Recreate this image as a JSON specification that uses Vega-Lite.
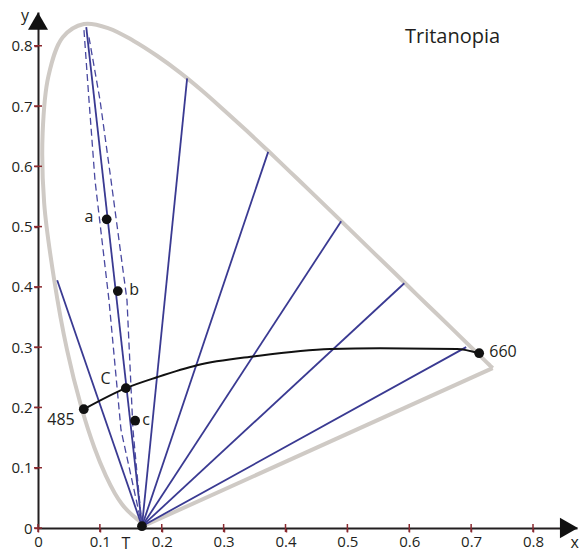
{
  "$schema": "https://vega.github.io/schema/vega-lite/v6.json",
  "width": 539,
  "height": 516,
  "autosize": "none",
  "padding": {"left": 38, "top": 12, "right": 3, "bottom": 26},
  "background": "white",
  "config": {"view": {"stroke": null}, "font": "Open Sans"},
  "datasets": {
    "locus": [
      {"i": 0, "x": 0.1741, "y": 0.0050}, {"i": 1, "x": 0.1733, "y": 0.0048}, {"i": 2, "x": 0.1714, "y": 0.0051},
      {"i": 3, "x": 0.1689, "y": 0.0069}, {"i": 4, "x": 0.1644, "y": 0.0109}, {"i": 5, "x": 0.1566, "y": 0.0177},
      {"i": 6, "x": 0.1440, "y": 0.0297}, {"i": 7, "x": 0.1355, "y": 0.0399}, {"i": 8, "x": 0.1241, "y": 0.0578},
      {"i": 9, "x": 0.1096, "y": 0.0868}, {"i": 10, "x": 0.0913, "y": 0.1327}, {"i": 11, "x": 0.0700, "y": 0.2007},
      {"i": 12, "x": 0.0470, "y": 0.2950}, {"i": 13, "x": 0.0260, "y": 0.4127}, {"i": 14, "x": 0.0100, "y": 0.5384},
      {"i": 15, "x": 0.0075, "y": 0.6548}, {"i": 16, "x": 0.0170, "y": 0.7502}, {"i": 17, "x": 0.0400, "y": 0.8140},
      {"i": 18, "x": 0.0743, "y": 0.8360}, {"i": 19, "x": 0.1142, "y": 0.8290}, {"i": 20, "x": 0.1547, "y": 0.8080},
      {"i": 21, "x": 0.1929, "y": 0.7830}, {"i": 22, "x": 0.2296, "y": 0.7555}, {"i": 23, "x": 0.2658, "y": 0.7250},
      {"i": 24, "x": 0.3016, "y": 0.6923}, {"i": 25, "x": 0.3373, "y": 0.6589}, {"i": 26, "x": 0.3731, "y": 0.6245},
      {"i": 27, "x": 0.4087, "y": 0.5896}, {"i": 28, "x": 0.4441, "y": 0.5547}, {"i": 29, "x": 0.4788, "y": 0.5202},
      {"i": 30, "x": 0.5125, "y": 0.4866}, {"i": 31, "x": 0.5448, "y": 0.4544}, {"i": 32, "x": 0.5752, "y": 0.4242},
      {"i": 33, "x": 0.6029, "y": 0.3965}, {"i": 34, "x": 0.6270, "y": 0.3725}, {"i": 35, "x": 0.6658, "y": 0.3340},
      {"i": 36, "x": 0.6915, "y": 0.3083}, {"i": 37, "x": 0.7079, "y": 0.2920}, {"i": 38, "x": 0.7190, "y": 0.2809},
      {"i": 39, "x": 0.7260, "y": 0.2740}, {"i": 40, "x": 0.7300, "y": 0.2700}, {"i": 41, "x": 0.7334, "y": 0.2666},
      {"i": 42, "x": 0.7347, "y": 0.2653}
    ],
    "purple": [
      {"i": 0, "x": 0.7347, "y": 0.2653},
      {"i": 1, "x": 0.1741, "y": 0.0050}
    ],
    "rays": [
      {"id": 1, "k": 0, "x": 0.168, "y": 0.003}, {"id": 1, "k": 1, "x": 0.031, "y": 0.411},
      {"id": 2, "k": 0, "x": 0.168, "y": 0.003}, {"id": 2, "k": 1, "x": 0.078, "y": 0.831},
      {"id": 3, "k": 0, "x": 0.168, "y": 0.003}, {"id": 3, "k": 1, "x": 0.241, "y": 0.746},
      {"id": 4, "k": 0, "x": 0.168, "y": 0.003}, {"id": 4, "k": 1, "x": 0.372, "y": 0.624},
      {"id": 5, "k": 0, "x": 0.168, "y": 0.003}, {"id": 5, "k": 1, "x": 0.490, "y": 0.509},
      {"id": 6, "k": 0, "x": 0.168, "y": 0.003}, {"id": 6, "k": 1, "x": 0.592, "y": 0.406},
      {"id": 7, "k": 0, "x": 0.168, "y": 0.003}, {"id": 7, "k": 1, "x": 0.692, "y": 0.300}
    ],
    "dashed": [
      {"id": "L", "k": 0, "x": 0.0743, "y": 0.826}, {"id": "L", "k": 1, "x": 0.0824, "y": 0.710},
      {"id": "L", "k": 2, "x": 0.0921, "y": 0.577}, {"id": "L", "k": 3, "x": 0.1147, "y": 0.378},
      {"id": "L", "k": 4, "x": 0.1341, "y": 0.163}, {"id": "L", "k": 5, "x": 0.168, "y": 0.003},
      {"id": "R", "k": 0, "x": 0.0824, "y": 0.814}, {"id": "R", "k": 1, "x": 0.1002, "y": 0.710},
      {"id": "R", "k": 2, "x": 0.118, "y": 0.577}, {"id": "R", "k": 3, "x": 0.1438, "y": 0.378},
      {"id": "R", "k": 4, "x": 0.1535, "y": 0.163}, {"id": "R", "k": 5, "x": 0.168, "y": 0.003}
    ],
    "curve": [
      {"x": 0.074, "y": 0.197}, {"x": 0.142, "y": 0.232}, {"x": 0.192, "y": 0.250},
      {"x": 0.257, "y": 0.270}, {"x": 0.351, "y": 0.285}, {"x": 0.472, "y": 0.297},
      {"x": 0.553, "y": 0.298}, {"x": 0.677, "y": 0.297}, {"x": 0.713, "y": 0.290}
    ],
    "points": [
      {"name": "a", "x": 0.111, "y": 0.512}, {"name": "b", "x": 0.129, "y": 0.393},
      {"name": "C", "x": 0.142, "y": 0.232}, {"name": "c", "x": 0.157, "y": 0.178},
      {"name": "485", "x": 0.074, "y": 0.197}, {"name": "660", "x": 0.713, "y": 0.290},
      {"name": "T", "x": 0.168, "y": 0.003}
    ],
    "labels": [
      {"text": "a", "x": 0.0824, "y": 0.5076}, {"text": "b", "x": 0.1552, "y": 0.3865},
      {"text": "C", "x": 0.1091, "y": 0.2389}, {"text": "c", "x": 0.1745, "y": 0.1709},
      {"text": "485", "x": 0.0372, "y": 0.1709}, {"text": "660", "x": 0.7515, "y": 0.2837},
      {"text": "T", "x": 0.1422, "y": -0.0345}, {"text": "y", "x": -0.021, "y": 0.841},
      {"text": "x", "x": 0.8675, "y": -0.0330}
    ],
    "title": [{"text": "Tritanopia", "x": 0.670, "y": 0.8046}],
    "xticks": [
      {"x": 0, "y": 0}, {"x": 0.1, "y": 0}, {"x": 0.2, "y": 0}, {"x": 0.3, "y": 0}, {"x": 0.4, "y": 0},
      {"x": 0.5, "y": 0}, {"x": 0.6, "y": 0}, {"x": 0.7, "y": 0}, {"x": 0.8, "y": 0}
    ],
    "yticks": [
      {"x": 0, "y": 0}, {"x": 0, "y": 0.1}, {"x": 0, "y": 0.2}, {"x": 0, "y": 0.3}, {"x": 0, "y": 0.4},
      {"x": 0, "y": 0.5}, {"x": 0, "y": 0.6}, {"x": 0, "y": 0.7}, {"x": 0, "y": 0.8}
    ],
    "xarrow": [{"x": 0.858, "y": 0}],
    "yarrow": [{"x": 0, "y": 0.841}]
  },
  "encoding": {
    "x": {
      "field": "x", "type": "quantitative",
      "scale": {"domain": [0, 0.8711], "nice": false, "zero": false},
      "axis": {
        "values": [0, 0.1, 0.2, 0.3, 0.4, 0.5, 0.6, 0.7, 0.8], "format": "~g",
        "title": null, "grid": false, "domainColor": "#231f20", "domainWidth": 2,
        "tickColor": "#8a2a30", "tickWidth": 1.5, "tickSize": 4, "labelPadding": 2,
        "labelFontSize": 15, "labelColor": "#231f20", "labelFont": "Open Sans", "labelFlush": false
      }
    },
    "y": {
      "field": "y", "type": "quantitative",
      "scale": {"domain": [0, 0.856], "nice": false, "zero": false},
      "axis": {
        "values": [0, 0.1, 0.2, 0.3, 0.4, 0.5, 0.6, 0.7, 0.8], "format": "~g",
        "title": null, "grid": false, "domainColor": "#231f20", "domainWidth": 2,
        "tickColor": "#8a2a30", "tickWidth": 1.5, "tickSize": 4, "labelPadding": 2,
        "labelFontSize": 15, "labelColor": "#231f20", "labelFont": "Open Sans", "labelFlush": false
      }
    }
  },
  "layer": [
    {
      "data": {"name": "locus"},
      "mark": {"type": "line", "interpolate": "catmull-rom", "stroke": "#cfcac5", "strokeWidth": 4, "clip": false},
      "encoding": {"order": {"field": "i", "type": "quantitative"}}
    },
    {
      "data": {"name": "purple"},
      "mark": {"type": "line", "stroke": "#cfcac5", "strokeWidth": 4, "clip": false},
      "encoding": {"order": {"field": "i", "type": "quantitative"}}
    },
    {
      "data": {"name": "rays"},
      "mark": {"type": "line", "stroke": "#3a3a92", "strokeWidth": 1.8},
      "encoding": {"detail": {"field": "id", "type": "nominal"}, "order": {"field": "k", "type": "quantitative"}}
    },
    {
      "data": {"name": "dashed"},
      "mark": {"type": "line", "stroke": "#4848a0", "strokeWidth": 1.3, "strokeDash": [7, 4]},
      "encoding": {"detail": {"field": "id", "type": "nominal"}, "order": {"field": "k", "type": "quantitative"}}
    },
    {
      "data": {"name": "curve"},
      "mark": {"type": "line", "interpolate": "monotone", "stroke": "#111111", "strokeWidth": 2}
    },
    {
      "data": {"name": "points"},
      "mark": {"type": "point", "shape": "circle", "filled": true, "fill": "#111111", "opacity": 1, "size": 95, "strokeWidth": 0}
    },
    {
      "data": {"name": "xticks"},
      "mark": {"type": "tick", "orient": "vertical", "color": "#8a2a30", "thickness": 1.5, "size": 8, "opacity": 1}
    },
    {
      "data": {"name": "yticks"},
      "mark": {"type": "tick", "orient": "horizontal", "color": "#8a2a30", "thickness": 1.5, "size": 8, "opacity": 1}
    },
    {
      "data": {"name": "xarrow"},
      "mark": {"type": "point", "shape": "triangle-right", "filled": true, "fill": "#111111", "opacity": 1, "size": 430, "strokeWidth": 0, "clip": false}
    },
    {
      "data": {"name": "yarrow"},
      "mark": {"type": "point", "shape": "triangle-up", "filled": true, "fill": "#111111", "opacity": 1, "size": 400, "strokeWidth": 0, "clip": false}
    },
    {
      "data": {"name": "labels"},
      "mark": {"type": "text", "font": "Open Sans", "fontSize": 16, "fill": "#231f20", "align": "center", "baseline": "alphabetic"},
      "encoding": {"text": {"field": "text", "type": "nominal"}}
    },
    {
      "data": {"name": "title"},
      "mark": {"type": "text", "font": "Open Sans", "fontSize": 20, "fill": "#231f20", "align": "center", "baseline": "alphabetic"},
      "encoding": {"text": {"field": "text", "type": "nominal"}}
    }
  ]
}
